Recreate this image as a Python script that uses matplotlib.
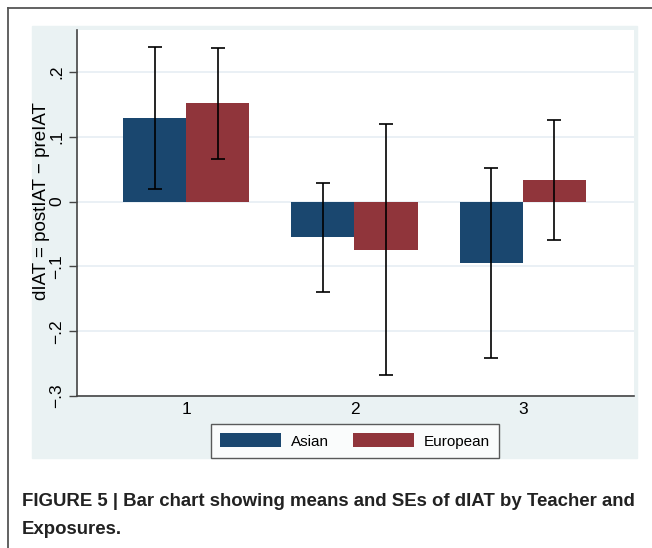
import matplotlib.pyplot as plt
from matplotlib.patches import Rectangle
from matplotlib.lines import Line2D
import numpy as np

plt.rcParams['font.family'] = ['Liberation Sans', 'DejaVu Sans']

# data
groups = [1, 2, 3]
asian = [0.129, -0.055, -0.094]
european = [0.152, -0.074, 0.034]
asian_lo = [0.019, -0.140, -0.241]
asian_hi = [0.238, 0.029, 0.052]
european_lo = [0.066, -0.268, -0.059]
european_hi = [0.237, 0.120, 0.126]
yticks = [-0.3, -0.2, -0.1, 0, 0.1, 0.2]
ytick_labels = ['\u2212.3', '\u2212.2', '\u2212.1', '0', '.1', '.2']

blue = '#1a476f'
red = '#90353b'
panel = '#eaf2f3'
W, H = 652, 548

fig = plt.figure(figsize=(W / 100, H / 100), dpi=100)

# stata-style graph region and outer frame
fig.patches.append(Rectangle((32 / W, 1 - 458 / H), 605 / W, 432 / H,
                             transform=fig.transFigure, color=panel, zorder=-5))
fig.lines.append(Line2D([8 / W, 1], [1 - 8 / H, 1 - 8 / H], transform=fig.transFigure,
                        color='#555555', lw=1.3))
fig.lines.append(Line2D([8 / W, 8 / W], [0, 1 - 8 / H], transform=fig.transFigure,
                        color='#555555', lw=1.3))

ax = fig.add_axes([77 / W, 1 - 396 / H, 557 / W, 366 / H])
ax.set_zorder(1)
ax.set_facecolor('white')

x = np.array(groups)
w = 0.374
ax.bar(x - w / 2, asian, w, color=blue, label='Asian', zorder=2)
ax.bar(x + w / 2, european, w, color=red, label='European', zorder=2)

a_mid = np.array(asian)
e_mid = np.array(european)
ax.errorbar(x - w / 2, a_mid, yerr=[a_mid - np.array(asian_lo), np.array(asian_hi) - a_mid],
            fmt='none', ecolor='black', elinewidth=1.2, capsize=5, capthick=1.2, zorder=3)
ax.errorbar(x + w / 2, e_mid, yerr=[e_mid - np.array(european_lo), np.array(european_hi) - e_mid],
            fmt='none', ecolor='black', elinewidth=1.2, capsize=5, capthick=1.2, zorder=3)

ax.set_xlim(0.353, 3.659)
ax.set_ylim(-0.3, 0.265)
ax.set_yticks(yticks)
ax.set_yticklabels(ytick_labels, rotation=90, va='center', fontsize=12.5)
ax.set_xticks(groups)
ax.set_xticklabels([str(g) for g in groups], fontsize=12.5)
ax.tick_params(axis='x', length=0, pad=4)
ax.tick_params(axis='y', length=6, width=1, color='#444444', pad=3)
ax.yaxis.grid(True, color='#e6eef3', lw=1.2, zorder=0)
ax.set_axisbelow(True)
for s in ['top', 'right']:
    ax.spines[s].set_visible(False)
for s in ['left', 'bottom']:
    ax.spines[s].set_color('#444444')
    ax.spines[s].set_linewidth(1.2)

ax.set_ylabel('dIAT = postIAT \u2212 preIAT', fontsize=13.5)
ax.yaxis.set_label_coords(-0.048, 0.533)

leg = fig.legend(loc='center', bbox_to_anchor=(355 / W, 1 - 441 / H), ncol=2,
                 fontsize=11, frameon=True, fancybox=False, edgecolor='#333333',
                 handlelength=4.0, handleheight=1.0, handletextpad=0.65,
                 columnspacing=1.6, borderpad=0.6)
leg.get_frame().set_linewidth(1.0)
leg.set_zorder(5)

fig.text(22 / W, 1 - 502 / H, 'FIGURE 5 | Bar chart showing means and SEs of dIAT by Teacher and',
         fontsize=13.4, fontweight='bold', color='#222222', va='center')
fig.text(22 / W, 1 - 529 / H, 'Exposures.',
         fontsize=13.4, fontweight='bold', color='#222222', va='center')

fig.savefig('out.png', dpi=100)
